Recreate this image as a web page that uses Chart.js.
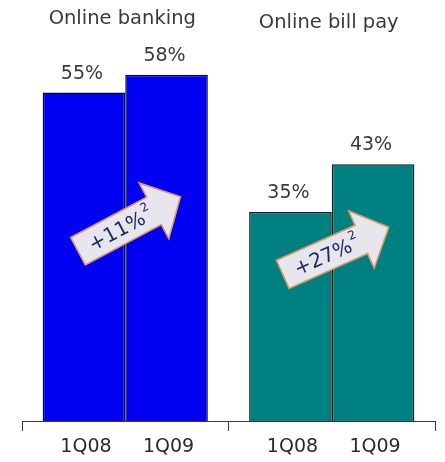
<!DOCTYPE html>
<html>
<head>
<meta charset="utf-8">
<title>Online banking and bill pay, 1Q08 vs 1Q09</title>
<script src="https://cdn.jsdelivr.net/npm/chart.js@4/dist/chart.umd.min.js"></script>
<style>
  html, body { margin: 0; padding: 0; background: #ffffff; }
  canvas { display: block; }
</style>
</head>
<body>
<canvas id="chart" width="445" height="462"></canvas>
<script>
// Service groups and quarters
const groups = ['Online banking', 'Online bill pay'];
const quarters = ['1Q08', '1Q09'];

// Adoption share (%) per group, by quarter
const values1Q08 = [55, 35];
const values1Q09 = [58, 43];

// Year-over-year growth callouts per group, with footnote marker
const growthLabels = ['+11%', '+27%'];
const growthNote = '2';

const fillColors = ['#0000f2', '#008080'];
const edgeColors = ['#06064a', '#061c1c'];
const FONT = '"DejaVu Sans", Verdana, sans-serif';

const annotations = {
  id: 'annotations',
  afterDatasetsDraw(chart, args, opts) {
    const ctx = chart.ctx;
    const yScale = chart.scales.y;
    const xScale = chart.scales.x;
    ctx.save();

    // group titles
    ctx.font = '19.5px ' + FONT;
    ctx.fillStyle = '#3a3a3a';
    ctx.textAlign = 'center';
    ctx.textBaseline = 'alphabetic';
    groups.forEach((g, i) => {
      ctx.fillText(g, xScale.getPixelForValue(i) - 3, opts.titleBaselines[i]);
    });

    // value labels above bars, quarter labels under the axis
    ctx.font = '19px ' + FONT;
    chart.data.datasets.forEach((ds, di) => {
      chart.getDatasetMeta(di).data.forEach((bar, i) => {
        ctx.fillStyle = '#3a3a3a';
        ctx.fillText(ds.data[i] + '%', bar.x - 2, bar.y - 14);
        ctx.fillStyle = '#2a2a2a';
        ctx.fillText(quarters[di], bar.x + 2, 452);
      });
    });

    // growth arrows between the two bars of each group
    const m0 = chart.getDatasetMeta(0).data;
    const m1 = chart.getDatasetMeta(1).data;
    groups.forEach((g, i) => {
      const cx = (m0[i].x + m1[i].x) / 2 + 4;
      const cy = yScale.getPixelForValue(opts.arrowLevels[i]);
      const ang = opts.arrowAngles[i] * Math.PI / 180;
      ctx.save();
      ctx.translate(cx, cy);
      ctx.rotate(ang);
      ctx.beginPath();
      ctx.moveTo(-58, -15.5);
      ctx.lineTo(28, -15.5);
      ctx.lineTo(28, -31.5);
      ctx.lineTo(58, 0);
      ctx.lineTo(28, 31.5);
      ctx.lineTo(28, 15.5);
      ctx.lineTo(-58, 15.5);
      ctx.closePath();
      ctx.fillStyle = '#e6e6ec';
      ctx.fill();
      ctx.lineWidth = 1.6;
      ctx.strokeStyle = '#dc9a68';
      ctx.stroke();

      ctx.fillStyle = '#1e2a62';
      ctx.textAlign = 'left';
      ctx.textBaseline = 'middle';
      ctx.font = '20px ' + FONT;
      const w = ctx.measureText(growthLabels[i]).width;
      ctx.font = '12px ' + FONT;
      const s = ctx.measureText(growthNote).width;
      const x0 = -10 - (w + s + 1) / 2;
      ctx.font = '20px ' + FONT;
      ctx.fillText(growthLabels[i], x0, 2);
      ctx.font = '12px ' + FONT;
      ctx.fillText(growthNote, x0 + w + 1, -7);
      ctx.restore();
    });

    ctx.restore();
  }
};

new Chart(document.getElementById('chart'), {
  type: 'bar',
  data: {
    labels: groups,
    datasets: [
      {
        label: quarters[0],
        data: values1Q08,
        backgroundColor: fillColors,
        borderColor: edgeColors,
        borderWidth: 1.5
      },
      {
        label: quarters[1],
        data: values1Q09,
        backgroundColor: fillColors,
        borderColor: edgeColors,
        borderWidth: 1.5
      }
    ]
  },
  options: {
    responsive: false,
    animation: false,
    events: [],
    layout: { padding: { left: 22, right: 10, top: 0, bottom: 0 } },
    datasets: {
      bar: { categoryPercentage: 0.8, barPercentage: 1.0 }
    },
    plugins: {
      legend: { display: false },
      tooltip: { enabled: false },
      annotations: {
        titleBaselines: [24, 28],
        arrowLevels: [33, 28.5],
        arrowAngles: [-28, -24]
      }
    },
    scales: {
      x: {
        position: 'bottom',
        offset: true,
        ticks: { display: false },
        grid: {
          offset: true,
          drawOnChartArea: false,
          drawTicks: true,
          tickLength: 10,
          color: '#3a3a3a',
          lineWidth: 1
        },
        border: { display: true, color: '#3a3a3a', width: 1 },
        afterFit(axis) { axis.height = 41; }
      },
      y: {
        display: false,
        min: 0,
        max: 70.5
      }
    }
  },
  plugins: [annotations]
});
</script>
</body>
</html>
